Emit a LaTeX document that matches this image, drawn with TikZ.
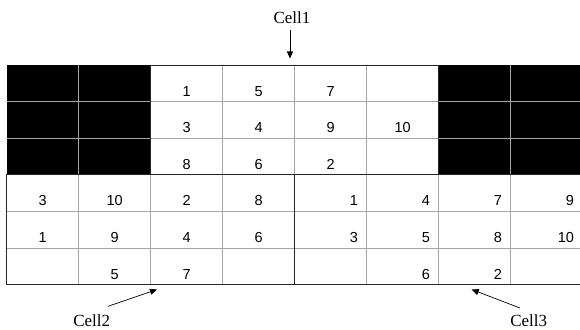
\documentclass[tikz,border=0pt]{standalone}
\usepackage{fontspec}
\setmainfont{Liberation Sans}
\newfontfamily\cellfont{Liberation Serif}
\usetikzlibrary{arrows.meta}
\begin{document}
\begin{tikzpicture}[x=1pt, y=-1pt, line join=round, >={Triangle[length=7pt,width=6pt]},
			declare function={cw=72;rh=36.6;gx=6.7;gy=65;},
			gridline/.style={draw=black!35, line width=0.8pt},
			border/.style={draw=black!85, line width=0.9pt},
			num/.style={font=\fontsize{14.5}{16}\selectfont, inner sep=0pt},
			celllabel/.style={font=\cellfont\fontsize{17}{19}\selectfont, inner sep=0pt, anchor=base}]
			\useasboundingbox (0,0) rectangle (580,329);
			% blacked-out blocks beside Cell1
			\fill (gx,gy) rectangle (gx+2*cw,gy+3*rh);
			\fill (gx+6*cw,gy) rectangle (gx+8*cw,gy+3*rh);
			% thin rules
			\foreach \i in {1,...,7} \draw[gridline] (gx+\i*cw,gy) -- (gx+\i*cw,gy+6*rh);
			\foreach \j in {1,2,4,5} \draw[gridline] (gx,gy+\j*rh) -- (gx+8*cw,gy+\j*rh);
			% outlines of the three cells
			\draw[border] (gx+2*cw,gy+3*rh) -- (gx+2*cw,gy) -- (gx+6*cw,gy) -- (gx+6*cw,gy+3*rh);
			\draw[border] (gx,gy+3*rh) rectangle (gx+8*cw,gy+6*rh);
			\draw[border] (gx+4*cw,gy+3*rh) -- (gx+4*cw,gy+6*rh);
			% entries, centred (Cell1 and Cell2)
			\foreach \c/\r/\v in {2/0/1, 3/0/5, 4/0/7,
				2/1/3, 3/1/4, 4/1/9, 5/1/10,
				2/2/8, 3/2/6, 4/2/2,
				0/3/3, 1/3/10, 2/3/2, 3/3/8,
				0/4/1, 1/4/9, 2/4/4, 3/4/6,
				1/5/5, 2/5/7}
				\node[num, anchor=base] (n\c\r) at (gx+\c*cw+cw/2,gy+\r*rh+rh-5.5) {\v};
			% entries, right aligned (Cell3)
			\foreach \c/\r/\v in {4/3/1, 5/3/4, 6/3/7, 7/3/9,
				4/4/3, 5/4/5, 6/4/8, 7/4/10,
				5/5/6, 6/5/2}
				\node[num, anchor=base east] (n\c\r) at (gx+\c*cw+cw-8.5,gy+\r*rh+rh-5.5) {\v};
			% labels and pointers
			\node[celllabel] (lab1) at (292,23.3) {Cell1};
			\node[celllabel] (lab2) at (91.7,326) {Cell2};
			\node[celllabel] (lab3) at (528.7,326) {Cell3};
			\coordinate (tip1) at (290,58.5);
			\coordinate (tip2) at (157,289.5);
			\coordinate (tip3) at (471.7,289.5);
			\draw[->, line width=0.7pt] ([xshift=-2pt,yshift=-6pt]lab1.south) -- (tip1);
			\draw[->, line width=0.7pt] ([xshift=16.3pt,yshift=7.7pt]lab2.north) -- (tip2);
			\draw[->, line width=0.7pt] ([xshift=-8.7pt,yshift=6pt]lab3.north) -- (tip3);
		\end{tikzpicture}
\end{document}
